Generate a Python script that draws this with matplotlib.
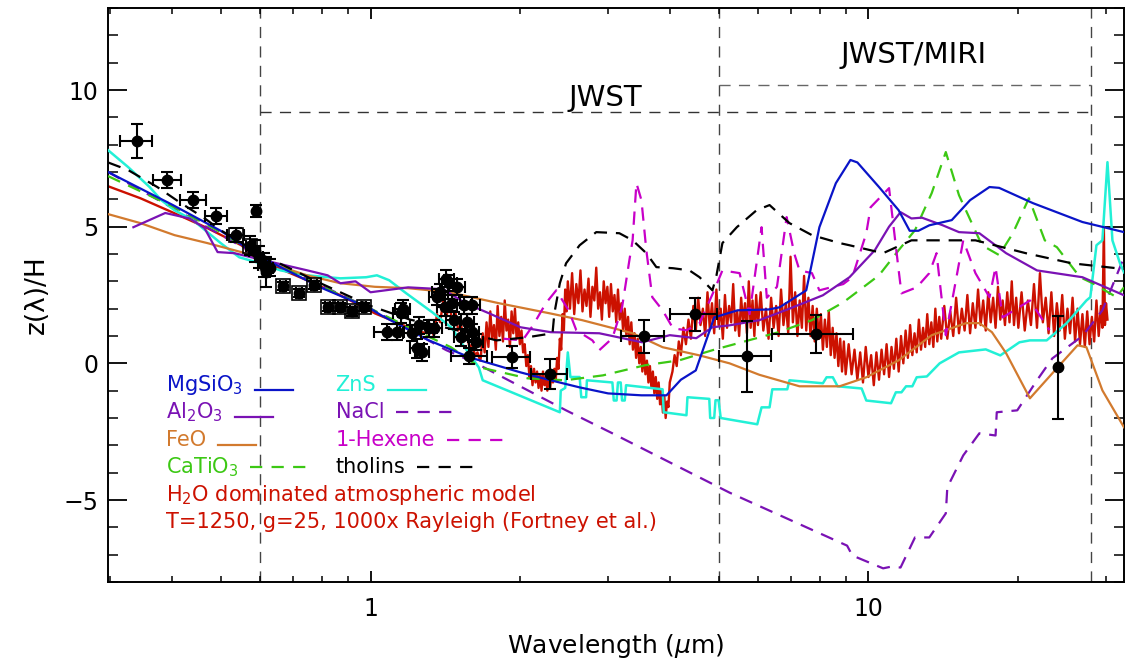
import numpy as np
import matplotlib
matplotlib.use('Agg')
import matplotlib.pyplot as plt
from matplotlib.ticker import FixedLocator, LogLocator, MultipleLocator, NullFormatter, FixedFormatter
from matplotlib.lines import Line2D
from matplotlib.transforms import IdentityTransform

plt.rcParams['font.family'] = ['DejaVu Sans']
plt.rcParams['mathtext.fontset'] = 'dejavusans'

# ---- observed points: wavelength, z/H, z error, wavelength error ----
obs_wl = [0.339, 0.391, 0.441, 0.490, 0.536, 0.588, 0.572, 0.585, 0.598, 0.610, 0.618, 0.628,
          0.667, 0.720, 0.770, 0.820, 0.870, 0.920, 0.970,
          1.08, 1.13, 1.15, 1.16, 1.21, 1.24, 1.27, 1.25, 1.31, 1.34, 1.36, 1.38, 1.42, 1.44,
          1.49, 1.41, 1.46, 1.47, 1.52, 1.54, 1.60, 1.56, 1.60, 1.63, 1.58,
          1.92, 2.29, 3.54, 4.48, 5.69, 7.85, 24.0]
obs_z = [8.13, 6.70, 5.97, 5.38, 4.70, 5.57, 4.30, 4.10, 3.90, 3.60, 3.35, 3.50,
         2.82, 2.56, 2.86, 2.05, 2.05, 1.90, 2.05,
         1.14, 1.14, 1.83, 2.00, 1.10, 0.55, 0.40, 1.39, 1.28, 1.28, 2.42, 2.60, 3.10, 2.93,
         2.79, 2.05, 2.20, 1.57, 0.95, 2.12, 2.12, 1.50, 1.14, 0.77, 0.26,
         0.22, -0.40, 0.99, 1.79, 0.26, 1.06, -0.15]
obs_zerr = [0.62, 0.30, 0.30, 0.30, 0.25, 0.22, 0.35, 0.40, 0.40, 0.45, 0.55, 0.30,
            0.15, 0.15, 0.15, 0.15, 0.15, 0.15, 0.15,
            0.30, 0.30, 0.37, 0.30, 0.30, 0.35, 0.30, 0.30, 0.30, 0.30, 0.30, 0.30, 0.30, 0.30,
            0.30, 0.30, 0.30, 0.30, 0.30, 0.30, 0.30, 0.30, 0.30, 0.30, 0.30,
            0.40, 0.55, 0.60, 0.60, 1.30, 0.70, 1.90]
obs_wlerr = [0.025, 0.025, 0.027, 0.025, 0.020, 0.005, 0.010, 0.015, 0.010, 0.015, 0.010, 0.010,
             0.010, 0.010, 0.010, 0.010, 0.010, 0.010, 0.010,
             0.065, 0.040, 0.040, 0.040, 0.050, 0.040, 0.040, 0.050, 0.050, 0.050, 0.050, 0.050, 0.050, 0.050,
             0.060, 0.050, 0.050, 0.050, 0.050, 0.050, 0.060, 0.050, 0.050, 0.050, 0.130,
             0.170, 0.190, 0.350, 0.480, 0.680, 1.450, 0.0]
box_wl = [0.536, 0.572, 0.667, 0.720, 0.770, 0.820, 0.870, 0.920, 0.970]
box_z = [4.70, 4.30, 2.82, 2.56, 2.86, 2.05, 2.05, 1.90, 2.05]

# ---- model curves: (wavelength um, z/H) ----
mgsio3 = [(0.297, 7.0), (0.40, 5.8), (0.5, 4.85), (0.6, 3.9), (0.8, 2.75), (1.0, 2.0), (1.05, 1.76),
          (1.31, 0.84), (1.58, 0.22), (2.0, -0.33), (2.3, -0.62), (2.63, -0.88), (3.0, -1.1),
          (3.5, -1.17), (3.93, -1.17), (4.2, -0.6), (4.5, -0.26), (4.9, 1.68), (5.46, 1.94),
          (6.3, 1.97), (6.63, 2.05), (7.5, 2.67), (7.97, 4.98), (8.6, 6.59), (9.2, 7.44),
          (9.5, 7.35), (10.5, 6.45), (11.5, 5.6), (12.1, 4.85), (12.6, 4.85), (13.25, 5.05),
          (14.7, 5.24), (16.0, 5.97), (17.5, 6.45), (18.3, 6.42), (21.4, 5.86), (26.9, 5.17), (32.6, 4.8)]
al2o3 = [(0.334, 4.98), (0.387, 5.5), (0.433, 5.3), (0.464, 4.95), (0.493, 4.07), (0.533, 4.03),
         (0.585, 3.85), (0.747, 3.4), (0.82, 3.22), (0.87, 2.93), (0.933, 3.0), (1.0, 2.6),
         (1.19, 2.78), (1.4, 2.71), (1.55, 2.2), (1.73, 1.83), (2.0, 1.32), (2.3, 1.14), (2.88, 1.1),
         (3.51, 0.77), (3.99, 1.03), (4.51, 0.92), (4.86, 1.32), (5.26, 1.39), (6.04, 1.58),
         (6.94, 2.0), (8.1, 2.49), (9.16, 3.15), (10.3, 4.14), (11.0, 5.0), (11.6, 5.53),
         (12.2, 5.3), (12.8, 5.33), (14.1, 5.05), (15.2, 4.8), (16.7, 4.76), (18.9, 4.03),
         (21.8, 3.4), (26.9, 3.15), (32.6, 2.49)]
feo = [(0.297, 5.46), (0.345, 5.13), (0.404, 4.69), (0.47, 4.4), (0.55, 4.07), (0.63, 3.66),
       (0.745, 3.22), (0.87, 2.93), (1.02, 2.8), (1.19, 2.75), (1.44, 2.6), (1.81, 2.2), (2.29, 1.83),
       (2.66, 1.58), (3.36, 1.1), (3.86, 0.59), (4.58, 0.29), (5.26, 0.0), (6.04, -0.42),
       (7.27, -0.84), (8.75, -0.84), (9.9, -0.51), (11.5, 0.11), (13.4, 1.03), (15.7, 1.47),
       (16.7, 1.47), (17.7, 1.14), (18.9, 0.37), (21.1, -1.28), (24.2, -0.07), (26.3, 0.66),
       (27.4, 0.59), (29.5, -0.99), (32.6, -2.34)]
catio3 = [(0.297, 6.85), (0.4, 5.75), (0.5, 4.8), (0.6, 3.9), (0.8, 2.8), (1.0, 2.0), (1.2, 1.3),
          (1.45, 0.59), (1.66, -0.15), (2.07, -0.55), (2.46, -0.62), (2.93, -0.44), (3.56, -0.07),
          (4.17, 0.11), (4.86, 0.48), (6.6, 1.14), (7.7, 1.58), (8.9, 2.23), (10.5, 3.22),
          (11.5, 4.14), (12.4, 4.87), (13.4, 6.23), (14.3, 7.73), (15.2, 6.15), (16.9, 4.32),
          (18.3, 3.96), (19.5, 4.76), (21.0, 6.04), (22.6, 4.5), (23.9, 4.25), (26.6, 3.15),
          (28.2, 2.93), (31.5, 2.42), (32.6, 2.78)]
zns = [(0.297, 7.8), (0.326, 7.18), (0.36, 6.45), (0.38, 5.97), (0.404, 5.6), (0.44, 5.24),
       (0.5, 4.4), (0.545, 3.88), (0.6, 3.66), (0.66, 3.4), (0.745, 3.22), (0.87, 3.11),
       (0.98, 3.15), (1.03, 3.22), (1.09, 3.04), (1.18, 2.56), (1.33, 1.87), (1.46, 1.28),
       (1.51, 0.84), (1.56, 0.48), (1.65, -0.15), (1.68, -0.62), (2.4, -1.79), (2.41, -1.0),
       (2.46, -0.9), (2.49, 0.4), (2.52, -0.5), (2.63, -0.5), (2.65, -1.24), (2.71, -1.24),
       (2.72, -0.62), (3.06, -0.7), (3.08, -1.36), (3.12, -1.36), (3.14, -0.7), (3.18, -0.7),
       (3.2, -1.36), (3.24, -1.36), (3.26, -0.8), (3.86, -0.95), (3.88, -1.79), (4.31, -1.9),
       (4.33, -1.24), (4.79, -1.3), (4.81, -2.0), (4.9, -2.0), (4.93, -1.35), (5.0, -1.35),
       (5.05, -2.0), (5.98, -2.23), (6.1, -1.61), (6.33, -1.61), (6.41, -0.95), (6.87, -0.95),
       (6.94, -0.62), (8.1, -0.73), (8.24, -0.51), (8.48, -0.51), (8.67, -0.84), (9.69, -0.92),
       (9.9, -1.36), (11.1, -1.46), (11.35, -1.06), (11.65, -1.06), (11.9, -0.84), (12.25, -0.84),
       (12.5, -0.51), (13.1, -0.48), (13.9, 0.0), (15.2, 0.4), (17.2, 0.51), (18.4, 0.29),
       (20.1, 0.77), (21.1, 0.84), (22.8, 0.84), (25.0, 1.47), (27.4, 2.3), (27.9, 2.42),
       (28.7, 4.32), (29.5, 4.5), (30.2, 7.36), (30.9, 4.5), (32.0, 3.66), (32.6, 3.33)]
nacl = [(0.297, 7.0), (0.6, 3.9), (1.0, 2.0), (1.42, 0.48), (1.63, 0.0), (2.47, -1.72),
        (3.06, -2.56), (5.26, -4.73), (9.06, -6.67), (9.28, -7.03), (10.7, -7.5), (11.1, -7.44),
        (11.6, -7.47), (12.4, -6.37), (13.25, -6.37), (14.3, -5.49), (14.4, -4.54), (15.5, -3.37),
        (16.7, -2.56), (18.0, -2.64), (18.1, -1.79), (19.9, -1.72), (21.8, -0.62), (23.4, 0.18),
        (26.9, 1.0), (29.5, 1.94), (32.6, 3.88)]
hexene = [(1.85, 0.9), (2.02, 0.84), (2.12, 1.39), (2.25, 2.2), (2.36, 2.67), (2.5, 1.94),
          (2.59, 1.21), (2.79, 0.84), (2.88, 0.48), (3.06, 0.92), (3.2, 2.05), (3.31, 3.77),
          (3.36, 4.5), (3.42, 6.59), (3.5, 5.97), (3.58, 4.14), (3.68, 2.42), (3.86, 1.94),
          (4.05, 1.28), (4.31, 1.21), (4.58, 1.47), (4.9, 2.67), (5.09, 3.4), (5.51, 3.3),
          (5.77, 1.8), (6.1, 4.98), (6.25, 2.4), (6.55, 2.8), (6.85, 5.35), (7.1, 4.0), (7.27, 3.4),
          (7.7, 3.3), (7.97, 2.67), (8.9, 2.9), (9.28, 3.15), (9.9, 4.76), (10.1, 5.71), (11.0, 6.41),
          (11.5, 3.4), (11.65, 2.56), (12.5, 2.78), (13.25, 3.3), (13.7, 4.03), (14.3, 1.03),
          (15.5, 4.5), (16.4, 3.3), (17.5, 2.42), (18.0, 3.52), (18.6, 1.68), (21.1, 2.3), (23.1, 1.21)]
tholins = [(0.297, 7.35), (0.326, 7.07), (0.373, 6.45), (0.413, 5.9), (0.464, 5.31), (0.5, 4.87),
           (0.6, 4.0), (0.8, 2.9), (1.0, 2.1), (1.2, 1.6), (1.5, 1.2), (1.79, 0.84), (2.06, 0.95),
           (2.32, 1.1), (2.34, 1.83), (2.4, 2.93), (2.47, 3.66), (2.63, 4.32), (2.84, 4.8),
           (3.16, 4.76), (3.36, 4.5), (3.58, 4.03), (3.75, 3.52), (4.05, 3.48), (4.37, 3.4),
           (4.58, 3.15), (4.86, 2.67), (4.95, 3.2), (5.09, 4.4), (5.44, 4.98), (5.96, 5.6),
           (6.33, 5.79), (6.94, 5.13), (7.7, 4.69), (8.75, 4.4), (9.16, 4.32), (10.7, 4.03),
           (12.2, 4.5), (16.4, 4.5), (20.7, 4.03), (25.6, 3.66), (32.6, 3.45)]
h2o_model = [(0.297, 6.48), (0.345, 6.04), (0.404, 5.49), (0.47, 4.95), (0.55, 4.32), (0.6, 3.77),
             (0.745, 3.04), (0.87, 2.49), (1.02, 1.83), (1.19, 1.32), (1.26, 1.15),
             (1.30, 1.1), (1.32, 1.4), (1.34, 1.0), (1.36, 1.8), (1.38, 1.5), (1.40, 2.3), (1.42, 1.7),
             (1.44, 2.2), (1.46, 1.5), (1.48, 1.9), (1.50, 1.2), (1.52, 1.4), (1.54, 0.9), (1.56, 1.0),
             (1.58, 0.6), (1.60, 0.7), (1.62, 0.3), (1.64, 0.4), (1.66, 0.1),
             (1.665, 0.2), (1.68, 1.1), (1.695, 0.4), (1.71, 1.5), (1.725, 0.6), (1.74, 1.9),
             (1.755, 0.9), (1.77, 1.4), (1.785, 0.5), (1.80, 2.1), (1.815, 1.0), (1.83, 1.7),
             (1.845, 0.8), (1.86, 2.3), (1.875, 1.2), (1.89, 1.6), (1.905, 0.6), (1.92, 1.9),
             (1.935, 1.1), (1.95, 2.0), (1.965, 0.9), (1.98, 1.5), (1.995, 0.7), (2.01, 1.2),
             (2.025, 0.4), (2.04, 0.7), (2.055, -0.1), (2.07, 0.3), (2.085, -0.5), (2.10, -0.1),
             (2.115, -0.8), (2.13, -0.2), (2.145, -0.7), (2.16, -0.3), (2.175, -0.9), (2.19, -0.4),
             (2.205, -1.0), (2.22, -0.3), (2.235, -0.8), (2.25, -0.5), (2.265, -1.0), (2.28, -0.4),
             (2.295, -0.9), (2.31, -0.3), (2.325, -0.7), (2.34, -0.2), (2.355, -0.6), (2.37, 0.2),
             (2.385, -0.2), (2.40, 0.9), (2.415, 0.5), (2.43, 1.8), (2.445, 1.2), (2.46, 2.7),
             (2.475, 1.9), (2.49, 3.0),
             (2.515, 2.0), (2.54, 3.3), (2.565, 1.8), (2.59, 2.9), (2.615, 2.2), (2.64, 3.4),
             (2.665, 1.9), (2.69, 2.7), (2.715, 2.1), (2.74, 3.1), (2.765, 1.7), (2.79, 2.8),
             (2.815, 2.3), (2.84, 3.5), (2.865, 2.0), (2.89, 2.6), (2.915, 1.6), (2.94, 3.0),
             (2.965, 2.2), (2.99, 2.8), (3.015, 1.7), (3.04, 2.9), (3.065, 1.9), (3.09, 2.5),
             (3.115, 1.5), (3.14, 2.7), (3.165, 1.6), (3.19, 2.2), (3.215, 1.2), (3.24, 2.0),
             (3.265, 1.0), (3.29, 1.7), (3.315, 0.7), (3.34, 1.5), (3.365, 0.5), (3.39, 1.1),
             (3.415, 0.2), (3.44, 0.9), (3.465, 0.0), (3.49, 0.6), (3.515, -0.3), (3.54, 0.4),
             (3.565, -0.4), (3.59, 0.1), (3.615, -0.7), (3.64, -0.1), (3.665, -0.9), (3.69, -0.3),
             (3.715, -1.1), (3.74, -0.5), (3.765, -1.3), (3.79, -0.7), (3.815, -1.5), (3.84, -1.0),
             (3.865, -1.8), (3.89, -1.2), (3.915, -2.0), (3.94, -1.4), (3.965, -1.6), (3.99, -0.7),
             (4.04, -0.3), (4.08, 0.3), (4.12, -0.1), (4.16, 0.8), (4.2, 0.3), (4.25, 1.3), (4.3, 0.7),
             (4.35, 1.6), (4.4, 0.9), (4.45, 2.1), (4.5, 1.2), (4.55, 2.4), (4.6, 1.4), (4.65, 2.0),
             (4.7, 1.0), (4.75, 2.6), (4.8, 1.3), (4.85, 2.2), (4.9, 1.1), (4.95, 2.7), (5.0, 1.4),
             (5.05, 2.0), (5.1, 0.9), (5.15, 2.5), (5.2, 1.3), (5.25, 2.1), (5.3, 1.5), (5.35, 2.9),
             (5.4, 1.2), (5.45, 1.9), (5.5, 1.0), (5.55, 2.4), (5.6, 1.5), (5.65, 2.2), (5.7, 1.1),
             (5.75, 3.0), (5.8, 1.3), (5.85, 2.3), (5.9, 1.0), (5.95, 2.5), (6.0, 1.4),
             (6.075, 2.6), (6.15, 1.2), (6.225, 2.0), (6.3, 0.9), (6.375, 2.4), (6.45, 1.3),
             (6.525, 2.1), (6.6, 1.0), (6.675, 2.7), (6.75, 1.4), (6.825, 2.2), (6.9, 1.1),
             (6.975, 3.9), (7.05, 1.5), (7.125, 2.6), (7.2, 1.0), (7.275, 2.3), (7.35, 1.3),
             (7.425, 3.2), (7.5, 1.2), (7.575, 2.4), (7.65, 1.0), (7.725, 2.1), (7.8, 0.8),
             (7.875, 2.0), (7.95, 0.9), (8.025, 1.8), (8.1, 0.5), (8.175, 1.6), (8.25, 0.6),
             (8.325, 1.9), (8.4, 0.3), (8.475, 1.3), (8.55, 0.2), (8.625, 1.1), (8.7, -0.1),
             (8.775, 0.9), (8.85, -0.3), (8.925, 0.8), (9.0, -0.4),
             (9.125, 0.7), (9.25, -0.4), (9.375, 0.5), (9.5, -0.6), (9.625, 0.4), (9.75, -0.7),
             (9.875, 0.6), (10.0, -0.5), (10.125, 0.3), (10.25, -0.8), (10.375, 0.4), (10.5, -0.6),
             (10.625, 0.5), (10.75, -0.4), (10.875, 0.7), (11.0, -0.5), (11.125, 0.6), (11.25, -0.2),
             (11.375, 0.9), (11.5, -0.3), (11.625, 1.0), (11.75, 0.0), (11.875, 1.2), (12.0, 0.2),
             (12.125, 1.4), (12.25, 0.3), (12.375, 1.1), (12.5, 0.4), (12.625, 1.6), (12.75, 0.5),
             (12.875, 1.3), (13.0, 0.6), (13.125, 1.8), (13.25, 0.7), (13.375, 1.5), (13.5, 0.6),
             (13.625, 2.0), (13.75, 0.8), (13.875, 1.7), (14.0, 0.9),
             (14.2, 2.1), (14.4, 0.9), (14.6, 1.9), (14.8, 1.0), (15.0, 2.4), (15.2, 1.1), (15.4, 2.0),
             (15.6, 1.2), (15.8, 2.5), (16.0, 1.1), (16.2, 2.2), (16.4, 1.3), (16.6, 2.7), (16.8, 1.4),
             (17.0, 2.3), (17.2, 1.2), (17.4, 2.6), (17.6, 1.5), (17.8, 2.4), (18.0, 1.3), (18.2, 2.8),
             (18.4, 1.6), (18.6, 2.3), (18.8, 1.4), (19.0, 2.6), (19.2, 1.5), (19.4, 3.0), (19.6, 1.4),
             (19.8, 2.4), (20.0, 1.3),
             (20.3, 2.6), (20.6, 1.2), (20.9, 2.3), (21.2, 1.4), (21.5, 2.9), (21.8, 1.3), (22.1, 3.3),
             (22.4, 1.5), (22.7, 2.4), (23.0, 1.1), (23.3, 2.6), (23.6, 1.0), (23.9, 2.2), (24.2, 1.2),
             (24.5, 2.5), (24.8, 0.9), (25.1, 2.0), (25.4, 1.1), (25.7, 2.4), (26.0, 0.8), (26.3, 2.0),
             (26.6, 0.7), (26.9, 1.8), (27.2, 0.6), (27.5, 1.9), (27.8, 0.7), (28.1, 1.7), (28.4, 0.8),
             (28.7, 2.3), (29.0, 1.0), (29.3, 2.1), (29.5, 1.3), (29.7, 5.0), (29.85, 1.4), (30.0, 2.2),
             (30.2, 1.6)]

# instrument ranges
jwst_edges = [0.6, 5.0, 28.0]
jwst_range = [0.6, 28.0]
jwst_level = 9.2
miri_range = [5.0, 28.0]
miri_level = 10.2

C_MG = '#0a14c8'
C_AL = '#7a12b4'
C_FE = '#d27a2e'
C_CA = '#3cc814'
C_ZN = '#22f0d6'
C_NA = '#7a12b4'
C_HX = '#c800c8'
C_TH = 'black'
C_H2O = '#cc1100'
DASH = (0, (6, 4))

fig = plt.figure(figsize=(11.25, 6.66), dpi=100)
ax = fig.add_axes([108 / 1125, 84 / 666, 1016 / 1125, 574 / 666])


def curve(pts, **kw):
    a = np.array(pts)
    ax.plot(a[:, 0], a[:, 1], **kw)


curve(h2o_model, color=C_H2O, lw=1.7, zorder=2)
curve(nacl, color=C_NA, lw=1.6, ls=DASH, zorder=2.5)
curve(zns, color=C_ZN, lw=1.8, zorder=3)
curve(feo, color=C_FE, lw=1.6, zorder=3)
curve(catio3, color=C_CA, lw=1.6, ls=DASH, zorder=3)
curve(hexene, color=C_HX, lw=1.6, ls=DASH, zorder=3)
curve(al2o3, color=C_AL, lw=1.6, zorder=3.2)
curve(mgsio3, color=C_MG, lw=1.6, zorder=3.3)
curve(tholins, color=C_TH, lw=1.6, ls=DASH, zorder=3.4)

# JWST ranges
for v in jwst_edges:
    ax.axvline(v, color='#444444', lw=1.0, ls=(0, (8, 6)), zorder=1)
ax.plot(jwst_range, [jwst_level, jwst_level], color='#333333', lw=1.0, ls=(0, (8, 6)), zorder=1)
ax.plot(miri_range, [miri_level, miri_level], color='#666666', lw=1.0, ls=(0, (8, 6)), zorder=1)
ax.text(2.96, 9.42, 'JWST', ha='center', va='baseline', fontsize=21)
ax.text(12.3, 11.0, 'JWST/MIRI', ha='center', va='baseline', fontsize=21)

# observations
ax.errorbar(obs_wl, obs_z, yerr=obs_zerr, xerr=obs_wlerr, fmt='o', color='black', ms=7.5,
            elinewidth=1.5, capsize=4.5, capthick=1.5, zorder=5)
ax.plot(box_wl, box_z, 's', mfc='none', mec='black', ms=10, mew=1.2, zorder=5)

ax.set_xscale('log')
ax.set_xlim(0.297, 32.6)
ax.set_ylim(-8, 13)
ax.xaxis.set_major_locator(FixedLocator([1, 10]))
ax.xaxis.set_major_formatter(FixedFormatter(['1', '10']))
ax.xaxis.set_minor_locator(LogLocator(base=10, subs=np.arange(2, 10), numticks=20))
ax.xaxis.set_minor_formatter(NullFormatter())
ax.yaxis.set_major_locator(MultipleLocator(5))
ax.yaxis.set_minor_locator(MultipleLocator(1))
ax.tick_params(axis='x', which='major', direction='in', length=8, width=1.3, top=True,
               labelsize=17, pad=11)
ax.tick_params(axis='x', which='minor', direction='in', length=4, width=1.1, top=True)
ax.tick_params(axis='y', which='major', direction='in', length=14, width=1.3, right=True,
               labelsize=17, pad=7)
ax.tick_params(axis='y', which='minor', direction='in', length=7, width=1.1, right=True)
for s in ax.spines.values():
    s.set_linewidth(1.4)
ax.set_xlabel('Wavelength ($\\mu$m)', fontsize=18, labelpad=8)
ax.set_ylabel('z(λ)/H', fontsize=19, labelpad=10)

# legend written as coloured text with short line samples
col1 = [('MgSiO$_3$', C_MG, '-'), ('Al$_2$O$_3$', C_AL, '-'), ('FeO', C_FE, '-'),
        ('CaTiO$_3$', C_CA, '--')]
col2 = [('ZnS', C_ZN, '-'), ('NaCl', C_NA, '--'), ('1-Hexene', C_HX, '--'),
        ('tholins', C_TH, '--')]
row_y = [0.3328, 0.2857, 0.2369, 0.1899]
texts = []
for col, x0 in [(col1, 0.057), (col2, 0.224)]:
    for (lab, c, st), yb in zip(col, row_y):
        t = ax.text(x0, yb, lab, color=c, fontsize=15, transform=ax.transAxes, va='baseline')
        texts.append((t, c, st, yb))
ax.text(0.057, 0.1411, 'H$_2$O dominated atmospheric model', color=C_H2O, fontsize=15,
        transform=ax.transAxes, va='baseline')
ax.text(0.057, 0.0941, 'T=1250, g=25, 1000x Rayleigh (Fortney et al.)', color=C_H2O, fontsize=15,
        transform=ax.transAxes, va='baseline')

fig.canvas.draw()
rend = fig.canvas.get_renderer()
for t, c, st, yb in texts:
    bb = t.get_window_extent(rend)
    ybase = ax.transAxes.transform((0, yb))[1]
    xs = bb.x1 + 12
    if st == '-':
        ln = Line2D([xs, xs + 38], [ybase + 1, ybase + 1], color=c, lw=1.6,
                    transform=IdentityTransform())
    else:
        ln = Line2D([xs, xs + 56], [ybase + 6, ybase + 6], color=c, lw=1.6,
                    ls=(0, (5.5, 4.2)), transform=IdentityTransform())
    fig.add_artist(ln)

fig.savefig('out.png', dpi=100)
